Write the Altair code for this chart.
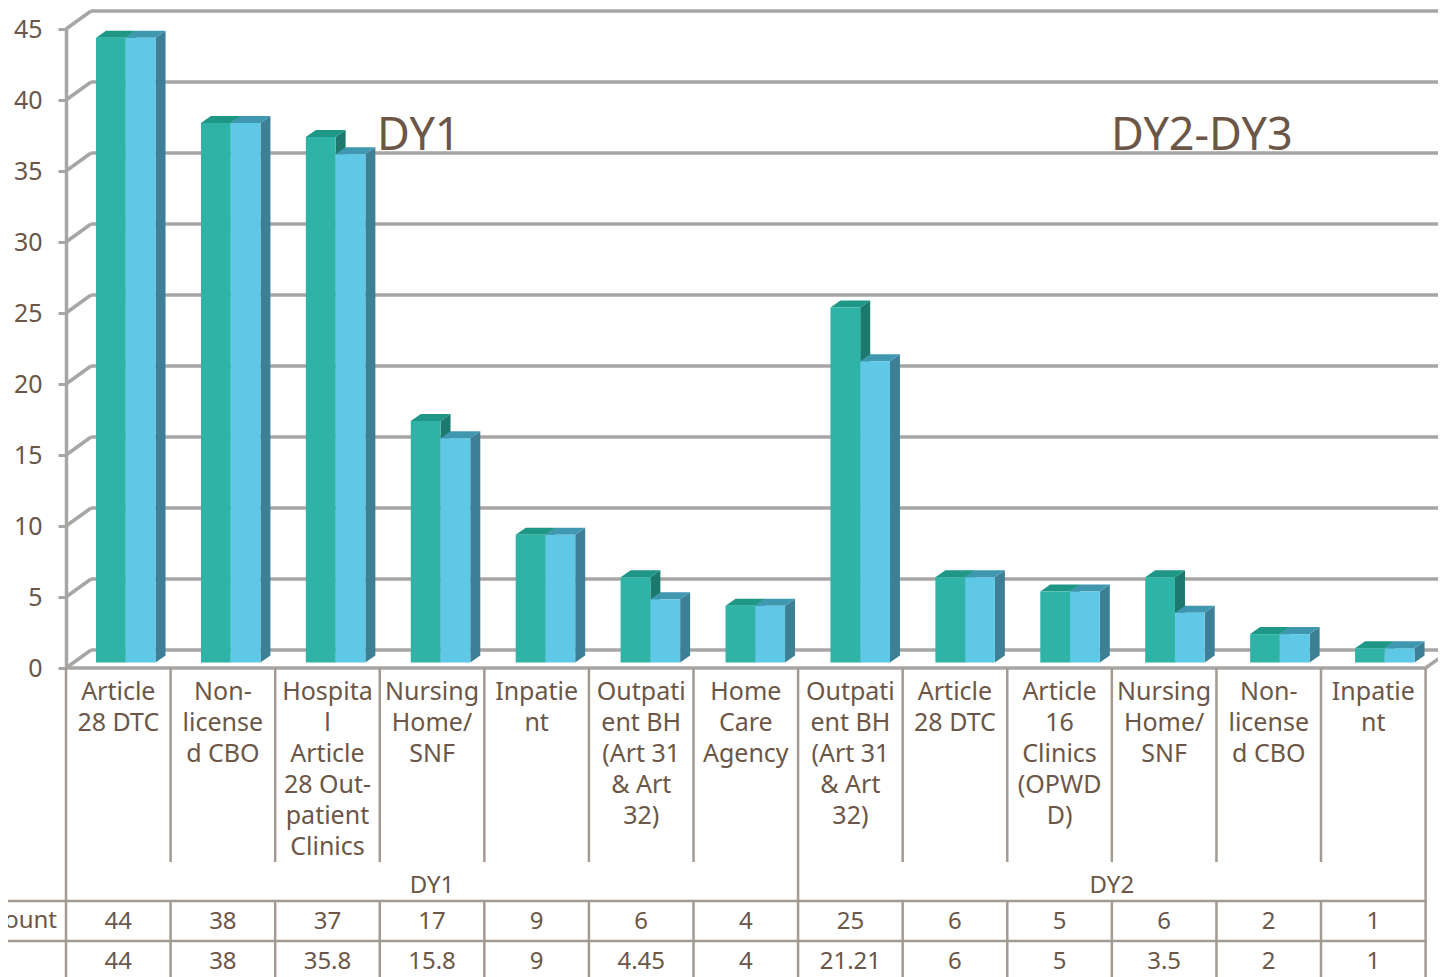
import altair as alt
import pandas as pd

# ---- data ----
categories = ["Article|28 DTC", "Non-|license|d CBO", "Hospita|l|Article|28 Out-|patient|Clinics",
              "Nursing|Home/|SNF", "Inpatie|nt", "Outpati|ent BH|(Art 31|& Art|32)", "Home|Care|Agency",
              "Outpati|ent BH|(Art 31|& Art|32)", "Article|28 DTC", "Article|16|Clinics|(OPWD|D)",
              "Nursing|Home/|SNF", "Non-|license|d CBO", "Inpatie|nt"]
series_a = [44, 38, 37, 17, 9, 6, 4, 25, 6, 5, 6, 2, 1]
series_b = [44, 38, 35.8, 15.8, 9, 4.45, 4, 21.21, 6, 5, 3.5, 2, 1]
labels_b = ["44", "38", "35.8", "15.8", "9", "4.45", "4", "21.21", "6", "5", "3.5", "2", "1"]
groups = [("DY1", 3.5), ("DY2", 10.0)]
y_ticks = list(range(0, 50, 5))

# ---- style ----
FONT = "Noto Sans"
TEXT = "#6B5647"
GRID = "#A8A6A4"
TABLE = "#A39A92"
GW = 3.5
TEAL, TEAL_TOP, TEAL_SIDE = "#2EB3A6", "#1F9786", "#1B7A6D"
BLUE, BLUE_TOP, BLUE_SIDE = "#5EC8E6", "#3F97B0", "#3D8096"

# bar geometry in axis units
STEP, START, HALF = 1.0032, 0.287, 0.2845
DX, DY, BASE = 0.0957, 0.493, 0.387

xs = alt.Scale(domain=[0, 13], range=[58, 1417.6])
ys = alt.Scale(domain=[0, 45], range=[660, 21])
X = lambda f: alt.X(f, type="quantitative", scale=xs, axis=None)
Y = lambda f: alt.Y(f, type="quantitative", scale=ys, axis=None)

def faces(values, pos):
    side, top, front = [], [], []
    for i, v in enumerate(values):
        l = START + i * STEP + pos * HALF
        r = l + HALF
        t = BASE + v
        front.append(dict(x=l, x2=r, y=BASE, y2=t))
        side.append(dict(id=i, x=r, y=t, y2=BASE))
        side.append(dict(id=i, x=r + DX, y=t + DY, y2=BASE + DY))
        top.append(dict(id=i, y=t, x=l, x2=r))
        top.append(dict(id=i, y=t + DY, x=l + DX, x2=r + DX))
    return pd.DataFrame(side), pd.DataFrame(top), pd.DataFrame(front)

def bar_layers(values, pos, col, col_top, col_side):
    side, top, front = faces(values, pos)
    s = alt.Chart(side).mark_area(color=col_side, orient="vertical").encode(
        x=X("x"), y=Y("y"), y2="y2", detail="id:N")
    t = alt.Chart(top).mark_area(color=col_top, orient="horizontal").encode(
        y=Y("y"), x=X("x"), x2="x2", detail="id:N")
    f = alt.Chart(front).mark_rect(color=col).encode(x=X("x"), x2="x2", y=Y("y"), y2="y2")
    return s, t, f

tick_df = pd.DataFrame({"v": y_ticks})
axis = alt.Axis(values=y_ticks, grid=False, title=None, labelFont=FONT, labelFontSize=25, labelColor=TEXT,
                labelPadding=16, tickColor=GRID, tickSize=8, tickWidth=3, domainColor=GRID, domainWidth=GW,
                offset=-58, labelFlush=False)
axis_layer = alt.Chart(tick_df).mark_rule(opacity=0).encode(
    y=alt.Y("v:Q", scale=ys, axis=axis))

back_grid = alt.Chart(tick_df.assign(a=0, b=13)).mark_rule(
    color=GRID, strokeWidth=GW, xOffset=25, x2Offset=25, yOffset=-18, y2Offset=-18).encode(
    x=X("a"), x2="b", y=Y("v"))
slants = alt.Chart(tick_df.assign(a=0)).mark_rule(
    color=GRID, strokeWidth=GW, x2Offset=25, y2Offset=-18).encode(
    x=X("a"), x2="a", y=Y("v"), y2="v")
floor_front = alt.Chart(pd.DataFrame({"a": [0], "b": [13], "v": [0]})).mark_rule(
    color=GRID, strokeWidth=GW).encode(x=X("a"), x2="b", y=Y("v"))
floor_right = alt.Chart(pd.DataFrame({"a": [13], "v": [0]})).mark_rule(
    color=GRID, strokeWidth=GW, x2Offset=25, y2Offset=-18).encode(
    x=X("a"), x2="a", y=Y("v"), y2="v")

ts, tt, tf = bar_layers(series_a, 0, TEAL, TEAL_TOP, TEAL_SIDE)
bs, bt, bf = bar_layers(series_b, 1, BLUE, BLUE_TOP, BLUE_SIDE)

# ---- data table ----
idx = list(range(14))
def vlines(positions, y0, y1):
    return alt.Chart(pd.DataFrame({"x": positions})).mark_rule(color=TABLE, strokeWidth=2.5).encode(
        x=X("x"), y=alt.value(y0), y2=alt.value(y1))
def hline(y):
    return alt.Chart(pd.DataFrame({"a": [0]})).mark_rule(color=TABLE, strokeWidth=2.5).encode(
        x=alt.value(0), x2=alt.value(1417.6), y=alt.value(y), detail="a:N")

cells = pd.DataFrame({"x": [i + 0.5 for i in range(13)], "cat": categories,
                      "a": [str(v) for v in series_a], "b": labels_b})
cat_text = alt.Chart(cells).mark_text(font=FONT, fontSize=25, color=TEXT, lineBreak="|", lineHeight=31,
                                      baseline="alphabetic", align="center").encode(
    x=X("x"), y=alt.value(692), text="cat:N")
row_a = alt.Chart(cells).mark_text(font=FONT, fontSize=24, color=TEXT, baseline="alphabetic").encode(
    x=X("x"), y=alt.value(921), text="a:N")
row_b = alt.Chart(cells).mark_text(font=FONT, fontSize=24, color=TEXT, baseline="alphabetic").encode(
    x=X("x"), y=alt.value(961), text="b:N")
grp = alt.Chart(pd.DataFrame(groups, columns=["g", "x"])).mark_text(
    font=FONT, fontSize=24, color=TEXT, baseline="alphabetic").encode(
    x=X("x"), y=alt.value(885), text="g:N")
row_name = alt.Chart(pd.DataFrame({"t": ["count"]})).mark_text(
    font=FONT, fontSize=24, color=TEXT, baseline="alphabetic", align="right").encode(
    x=alt.value(49), y=alt.value(920), text="t:N")
ann = alt.Chart(pd.DataFrame({"t": ["DY1", "DY2-DY3"], "x": [369, 1103]})).mark_text(
    font=FONT, fontSize=45, color=TEXT, baseline="alphabetic", align="left").encode(
    x=alt.X("x:Q", scale=None), y=alt.value(142), text="t:N")

chart = alt.layer(
    axis_layer, back_grid, slants, floor_front, floor_right,
    ts, tt, bs, bt, tf, bf,
    vlines(idx, 660, 854), vlines([0, 7, 13], 854, 893),
    vlines(idx, 893, 969), hline(893), hline(933),
    cat_text, row_a, row_b, grp, row_name, ann,
).resolve_axis(y="independent").properties(width=1430, height=969, padding=0,
    autosize=alt.AutoSizeParams(type="none")
).configure_view(stroke=None)

chart.save("out.html", embed_options={"renderer": "svg", "actions": False})
